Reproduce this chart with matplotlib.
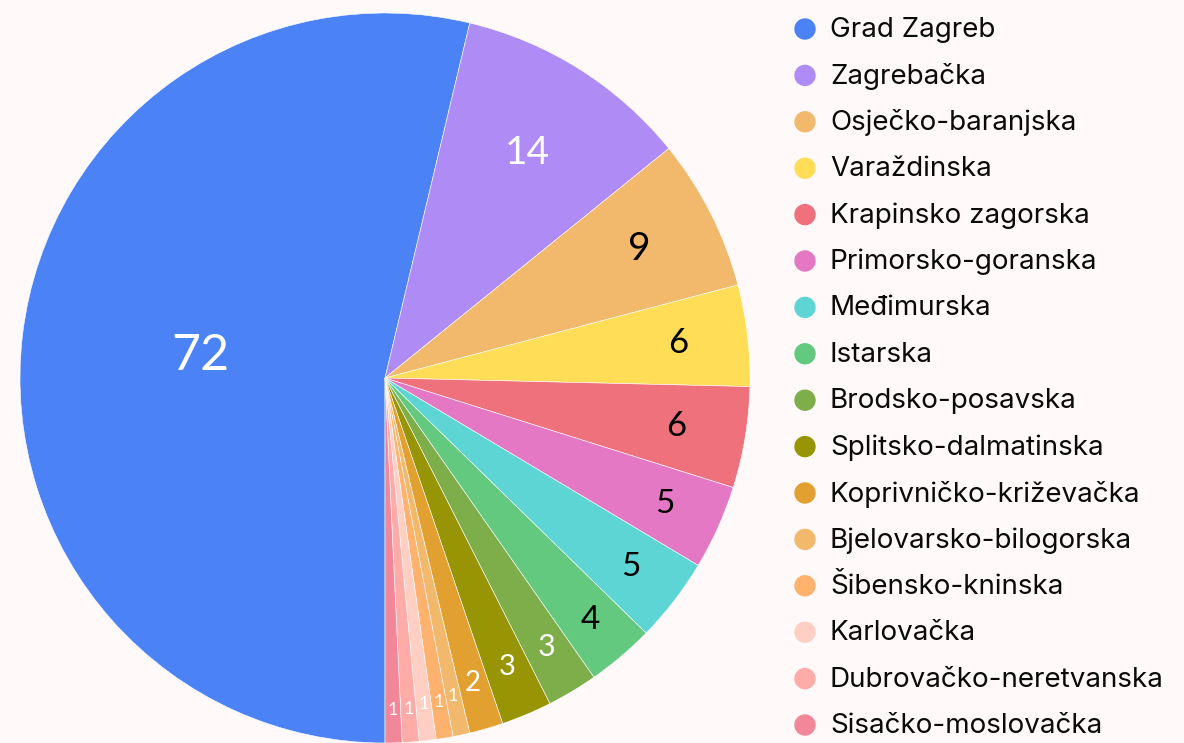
import numpy as np
import matplotlib.pyplot as plt

# data
counties = ["Grad Zagreb", "Zagrebačka", "Osječko-baranjska", "Varaždinska",
            "Krapinsko zagorska", "Primorsko-goranska", "Međimurska", "Istarska",
            "Brodsko-posavska", "Splitsko-dalmatinska", "Koprivničko-križevačka",
            "Bjelovarsko-bilogorska", "Šibensko-kninska", "Karlovačka",
            "Dubrovačko-neretvanska", "Sisačko-moslovačka"]
counts = [72, 14, 9, 6, 6, 5, 5, 4, 3, 3, 2, 1, 1, 1, 1, 1]
colors = ["#4B82F6", "#AF8CF5", "#F2B96C", "#FFDD57", "#EF717B", "#E578C4",
          "#5DD5D4", "#62C97F", "#7EAE4A", "#989505", "#E1A02F", "#F2B96C",
          "#FFB26E", "#FFCFC3", "#FFABA8", "#F2879A"]
label_colors = ["white", "white", "black", "black", "black", "black", "black",
                "black", "white", "white", "white", "white", "white", "white",
                "white", "white"]
label_sizes = [36, 28, 28, 25, 25, 24, 24, 24, 22, 21, 20, 13, 13, 13, 13, 13]
label_r = [0.51, 0.73, 0.78, 0.81, 0.81, 0.84, 0.85, 0.87, 0.86, 0.86, 0.87,
           0.89, 0.9, 0.9, 0.91, 0.91]

bg = "#FFFAF9"
W, H = 1184, 743
fig = plt.figure(figsize=(W / 100, H / 100), dpi=100, facecolor=bg)

cx, cy, R = 385, 378, 365
ax = fig.add_axes([(cx - R) / W, (H - cy - R) / H, 2 * R / W, 2 * R / H])
ax.set_facecolor(bg)

wedges, _ = ax.pie(counts, colors=colors, startangle=270, counterclock=False,
                   radius=1, wedgeprops=dict(edgecolor="white", linewidth=0.4))
ax.set_xlim(-1, 1)
ax.set_ylim(-1, 1)
ax.set_aspect("equal")
ax.axis("off")

for w, v, c, s, r in zip(wedges, counts, label_colors, label_sizes, label_r):
    ang = np.deg2rad((w.theta1 + w.theta2) / 2)
    ax.text(r * np.cos(ang), r * np.sin(ang), str(v), ha="center", va="center",
            color=c, fontsize=s, family="Lato")

# legend drawn by hand (pixel positions, y from top)
y0, dy = 30, 46.4
for i, (name, col) in enumerate(zip(counties, colors)):
    ypx = y0 + i * dy
    circ = plt.Circle((805 / 100, (H - ypx + 1) / 100), 10 / 100,
                      transform=fig.dpi_scale_trans, color=col, figure=fig)
    fig.patches.append(circ)
    fig.text(830 / W, 1 - ypx / H, name, ha="left", va="center", fontsize=20,
             family="Inter", color="#0A0A0A")

fig.savefig("out.png", dpi=100, facecolor=bg)
